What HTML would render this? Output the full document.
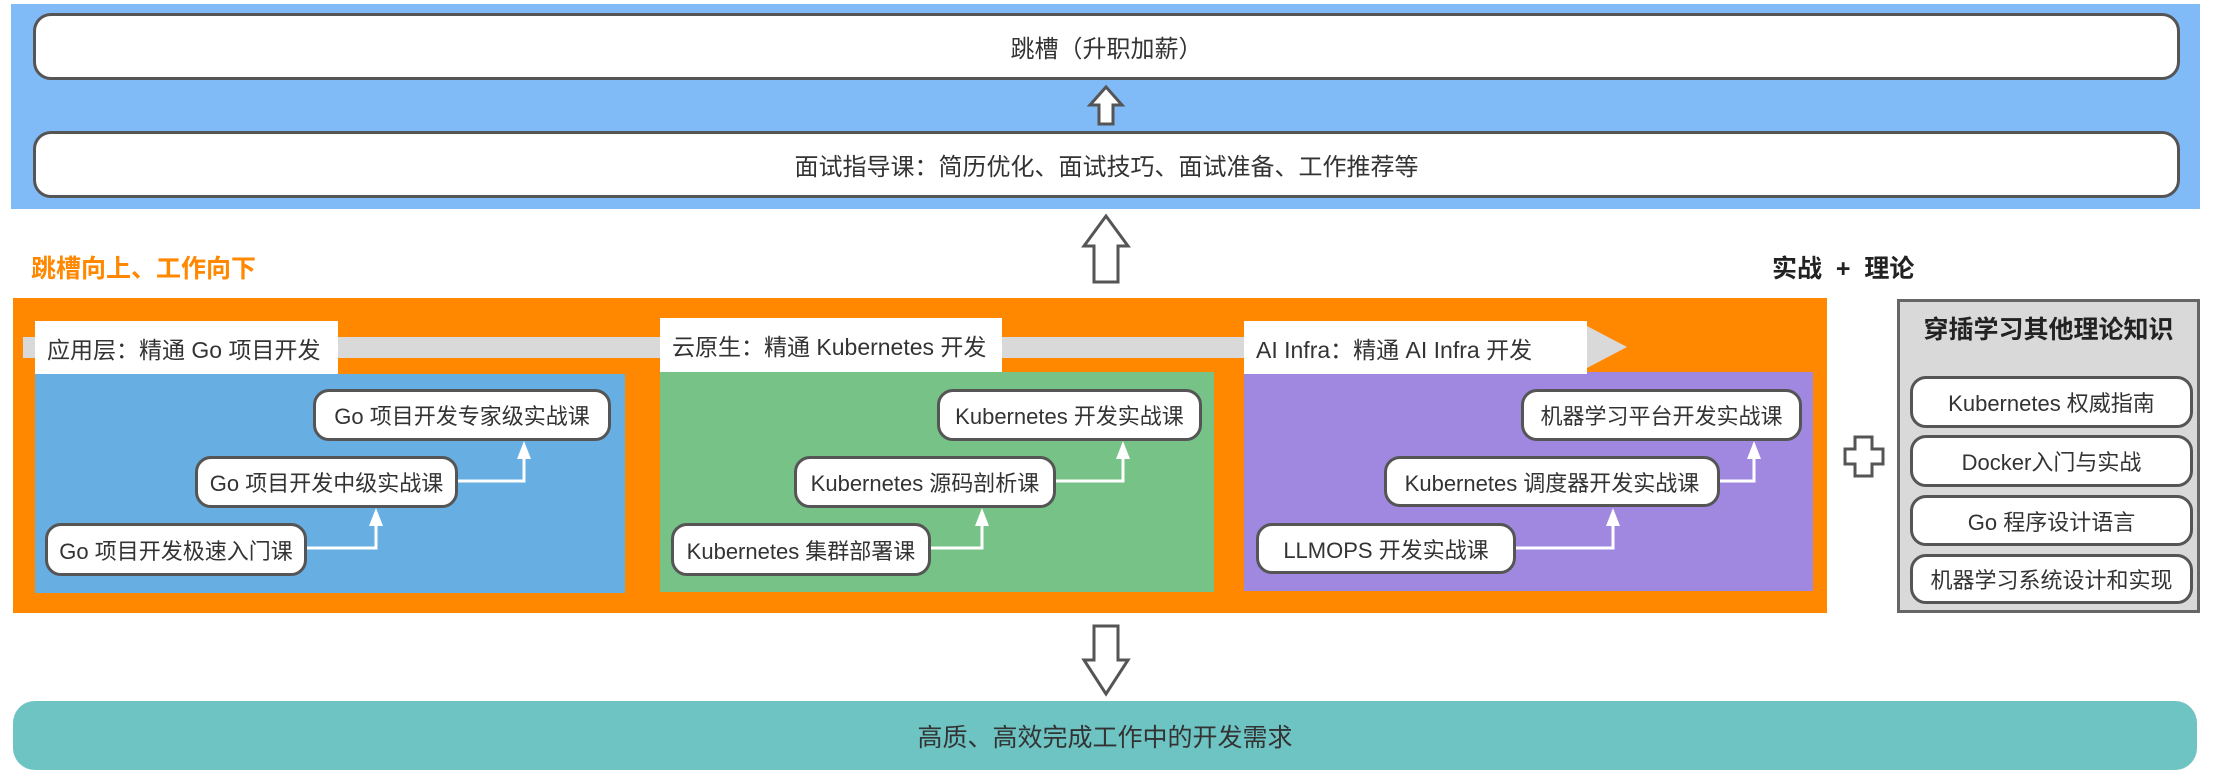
<!DOCTYPE html>
<html><head><meta charset="utf-8"><style>
*{margin:0;padding:0;box-sizing:border-box}
body{width:2216px;height:773px;background:#fff;position:relative;overflow:hidden;font-family:"Liberation Sans","Noto Sans CJK SC",sans-serif;color:#333}
.a{position:absolute}
.box{position:absolute;background:#fff;border:3px solid #555;border-radius:18px;display:flex;align-items:center;justify-content:center;font-size:24px;white-space:nowrap}
.n{font-size:22px;border-radius:16px}
.lbl{position:absolute;background:#fff;font-size:23px;display:flex;align-items:center;padding-left:12px;white-space:nowrap}
</style></head><body>
<div class="a" style="left:11px;top:4px;width:2189px;height:205px;background:#80BAF7"></div>
<div class="box" style="left:33px;top:13px;width:2147px;height:67px">跳槽（升职加薪）</div>
<div class="box" style="left:33px;top:131px;width:2147px;height:67px">面试指导课：简历优化、面试技巧、面试准备、工作推荐等</div>
<div class="a" style="left:31px;top:249px;font-size:25px;font-weight:bold;color:#FF8800">跳槽向上、工作向下</div>
<div class="a" style="left:1772px;top:249px;font-size:25px;font-weight:bold;color:#222;word-spacing:0">实战 &nbsp;+ &nbsp;理论</div>

<div class="a" style="left:13px;top:298px;width:1814px;height:315px;background:#FF8800"></div>
<svg class="a" style="left:0;top:0" width="2216" height="773">
<polygon points="23,337 1587,337 1587,326 1627,347 1587,368 1587,358 23,358" fill="#D9D9D9"/>
</svg>
<div class="a" style="left:35px;top:374px;width:590px;height:219px;background:#67AEE2"></div>
<div class="a" style="left:660px;top:372px;width:554px;height:220px;background:#77C286"></div>
<div class="a" style="left:1244px;top:372px;width:569px;height:219px;background:#A088E0"></div>
<div class="lbl" style="left:35px;top:321px;width:303px;height:53px">应用层：精通 Go 项目开发</div>
<div class="lbl" style="left:660px;top:318px;width:342px;height:54px">云原生：精通 Kubernetes 开发</div>
<div class="lbl" style="left:1244px;top:321px;width:343px;height:53px">AI Infra：精通 AI Infra 开发</div>

<svg class="a" style="left:0;top:0" width="2216" height="773" fill="none">
<g stroke="#fff" stroke-width="3">
<polyline points="307,548 376,548 376,520"/>
<polyline points="458,481 524,481 524,453"/>
<polyline points="931,548 982,548 982,520"/>
<polyline points="1056,481 1123,481 1123,453"/>
<polyline points="1516,548 1613,548 1613,520"/>
<polyline points="1720,481 1754,481 1754,453"/>
</g>
<g fill="#fff">
<polygon points="376,508 369,526 383,526"/>
<polygon points="524,441 517,459 531,459"/>
<polygon points="982,508 975,526 989,526"/>
<polygon points="1123,441 1116,459 1130,459"/>
<polygon points="1613,508 1606,526 1620,526"/>
<polygon points="1754,441 1747,459 1761,459"/>
</g>
<g stroke="#555" stroke-width="3" fill="#fff">
<polygon points="1106,87 1090,105 1099,105 1099,124 1113,124 1113,105 1122,105"/>
<polygon points="1106,216 1084,246 1094,246 1094,282 1118,282 1118,246 1128,246"/>
<polygon points="1094,626 1118,626 1118,660 1128,660 1106,694 1084,660 1094,660"/>
<polygon points="1855,437 1872,437 1872,449 1883,449 1883,464 1872,464 1872,476 1855,476 1855,464 1845,464 1845,449 1855,449"/>
</g>
</svg>

<div class="box n" style="left:313px;top:389px;width:298px;height:52px">Go 项目开发专家级实战课</div>
<div class="box n" style="left:195px;top:456px;width:263px;height:52px">Go 项目开发中级实战课</div>
<div class="box n" style="left:45px;top:523px;width:262px;height:53px">Go 项目开发极速入门课</div>
<div class="box n" style="left:937px;top:389px;width:265px;height:52px">Kubernetes 开发实战课</div>
<div class="box n" style="left:794px;top:456px;width:262px;height:52px">Kubernetes 源码剖析课</div>
<div class="box n" style="left:671px;top:523px;width:260px;height:53px">Kubernetes 集群部署课</div>
<div class="box n" style="left:1521px;top:389px;width:281px;height:52px">机器学习平台开发实战课</div>
<div class="box n" style="left:1384px;top:456px;width:336px;height:51px">Kubernetes 调度器开发实战课</div>
<div class="box n" style="left:1256px;top:523px;width:260px;height:51px">LLMOPS 开发实战课</div>

<div class="a" style="left:1897px;top:299px;width:303px;height:314px;background:#D9D9D9;border:3px solid #666"></div>
<div class="a" style="left:1897px;top:310px;width:303px;text-align:center;font-size:25px;font-weight:bold;color:#222">穿插学习其他理论知识</div>
<div class="box n" style="left:1910px;top:376px;width:283px;height:52px">Kubernetes 权威指南</div>
<div class="box n" style="left:1910px;top:435px;width:283px;height:52px">Docker入门与实战</div>
<div class="box n" style="left:1910px;top:495px;width:283px;height:51px">Go 程序设计语言</div>
<div class="box n" style="left:1910px;top:554px;width:283px;height:50px">机器学习系统设计和实现</div>

<div class="a" style="left:13px;top:701px;width:2184px;height:69px;background:#6EC3C3;border-radius:22px;display:flex;align-items:center;justify-content:center;font-size:25px">高质、高效完成工作中的开发需求</div>
</body></html>
